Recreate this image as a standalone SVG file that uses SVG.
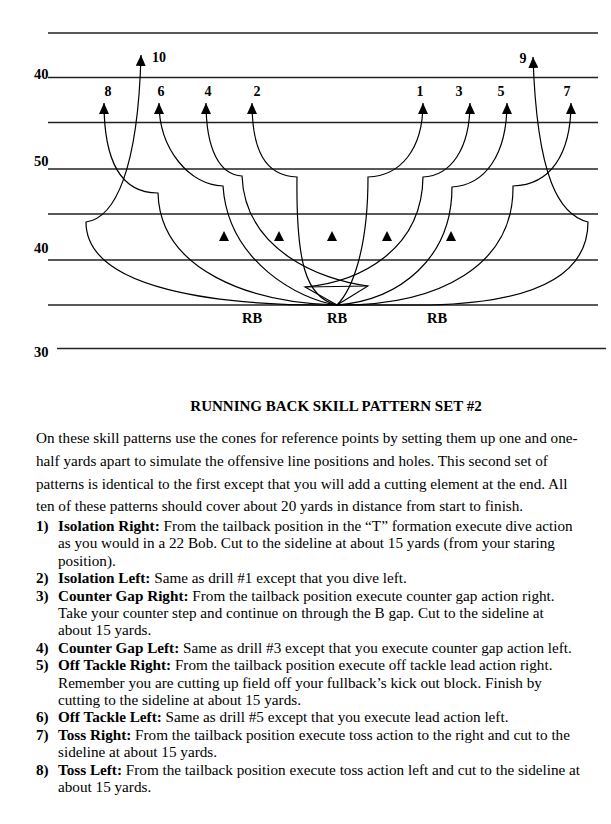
<svg xmlns="http://www.w3.org/2000/svg" width="611" height="824" viewBox="0 0 611 824">
<style>
.yl{stroke:#222;stroke-width:1.4;fill:none}
.p{fill:none;stroke:#000;stroke-width:1.2}
.lbl{font-family:"Liberation Serif",serif;font-weight:bold;font-size:14px;fill:#000}
.yd{font-family:"Liberation Serif",serif;font-weight:bold;font-size:14.5px;fill:#000}
.body{font-family:"Liberation Serif",serif;font-size:15.2px;fill:#000}
.b{font-weight:bold}
.cone{fill:#000}
</style>
<defs>
<marker id="ah" viewBox="0 0 11 10" refX="11" refY="5" markerWidth="11" markerHeight="10" markerUnits="userSpaceOnUse" orient="auto">
<path d="M0,0 L11,5 L0,10 z" fill="#000"/>
</marker>
</defs>
<rect width="611" height="824" fill="#fff"/>
<g id="yard-lines">
<line class="yl" x1="48" y1="33" x2="598" y2="33"/>
<line class="yl" x1="48" y1="77.5" x2="598" y2="77.5"/>
<line class="yl" x1="48" y1="122.5" x2="598" y2="122.5"/>
<line class="yl" x1="48" y1="169" x2="598" y2="169"/>
<line class="yl" x1="48" y1="214" x2="598" y2="214"/>
<line class="yl" x1="48" y1="260" x2="598" y2="260"/>
<line class="yl" x1="48" y1="305" x2="598" y2="305"/>
<line class="yl" x1="57" y1="348.5" x2="606" y2="348.5"/>
<text class="yd" x="34" y="79">40</text>
<text class="yd" x="34" y="166">50</text>
<text class="yd" x="34" y="253">40</text>
<text class="yd" x="34" y="357">30</text>
</g>
<g id="cones">
<path class="cone" d="M224,231 L229,241 L219,241 z"/>
<path class="cone" d="M279,231 L284,241 L274,241 z"/>
<path class="cone" d="M332,231 L337,241 L327,241 z"/>
<path class="cone" d="M387,231 L392,241 L382,241 z"/>
<path class="cone" d="M451,231 L456,241 L446,241 z"/>
</g>
<g id="rb-positions">
<text class="yd" x="252" y="323" text-anchor="middle">RB</text>
<text class="yd" x="337" y="323" text-anchor="middle">RB</text>
<text class="yd" x="437" y="323" text-anchor="middle">RB</text>
</g>
<g id="connectors">
<path id="route-1" class="p" marker-end="url(#ah)" d="M337,305 C352,290 368,250 368,177 C400,176 423,150 423,103"/>
<path id="route-2" class="p" marker-end="url(#ah)" d="M337,305 C305,298 296,260 297,177 C265,176 252,150 252,103"/>
<path id="route-3" class="p" marker-end="url(#ah)" d="M337,305 L305,287 C360,282 422,250 423,177 C450,176 470,150 470,103"/>
<path id="route-4" class="p" marker-end="url(#ah)" d="M337,305 L368,286 C320,280 245,250 242,176 C220,175 206,150 206,103"/>
<path id="counter-step" class="p" d="M305,287 L368,286"/>
<path id="route-5" class="p" marker-end="url(#ah)" d="M337,305 C400,300 452,258 452,187 C485,185 507,155 507,103"/>
<path id="route-6" class="p" marker-end="url(#ah)" d="M337,305 C300,300 228,262 223,186 C190,185 159,150 159,103"/>
<path id="route-7" class="p" marker-end="url(#ah)" d="M337,305 C440,306 514,265 513,186 C550,185 571,155 571,103"/>
<path id="route-8" class="p" marker-end="url(#ah)" d="M337,305 C250,303 160,270 158,193 C120,193 104,160 104,103"/>
<path id="route-9" class="p" marker-end="url(#ah)" d="M337,305 L430,305 C520,303 588,282 588,222 C560,215 537,180 533,57"/>
<path id="route-10" class="p" marker-end="url(#ah)" d="M337,305 C220,306 86,290 86,222 C115,218 138,170 141,55"/>
</g>
<g id="route-labels">
<text class="lbl" x="159" y="62" text-anchor="middle">10</text>
<text class="lbl" x="523" y="63" text-anchor="middle">9</text>
<text class="lbl" x="108" y="96" text-anchor="middle">8</text>
<text class="lbl" x="161" y="96" text-anchor="middle">6</text>
<text class="lbl" x="208" y="96" text-anchor="middle">4</text>
<text class="lbl" x="257" y="96" text-anchor="middle">2</text>
<text class="lbl" x="420" y="96" text-anchor="middle">1</text>
<text class="lbl" x="459" y="96" text-anchor="middle">3</text>
<text class="lbl" x="501" y="96" text-anchor="middle">5</text>
<text class="lbl" x="567" y="96" text-anchor="middle">7</text>
</g>
<g id="title">
<text class="body b" x="336" y="411" text-anchor="middle" style="font-size:15px">RUNNING BACK SKILL PATTERN SET #2</text>
</g>
<g id="intro" class="body">
<text x="36" y="443">On these skill patterns use the cones for reference points by setting them up one and one-</text>
<text x="36" y="466">half yards apart to simulate the offensive line positions and holes. This second set of</text>
<text x="36" y="489">patterns is identical to the first except that you will add a cutting element at the end. All</text>
<text x="36" y="511">ten of these patterns should cover about 20 yards in distance from start to finish.</text>
</g>
<g id="drills" class="body">
<text x="36" y="531" class="b">1)</text>
<text x="58" y="531"><tspan class="b">Isolation Right:</tspan> From the tailback position in the “T” formation execute dive action</text>
<text x="58" y="548.4">as you would in a 22 Bob. Cut to the sideline at about 15 yards (from your staring</text>
<text x="58" y="565.8">position).</text>
<text x="36" y="583.2" class="b">2)</text>
<text x="58" y="583.2"><tspan class="b">Isolation Left:</tspan> Same as drill #1 except that you dive left.</text>
<text x="36" y="600.6" class="b">3)</text>
<text x="58" y="600.6"><tspan class="b">Counter Gap Right:</tspan> From the tailback position execute counter gap action right.</text>
<text x="58" y="618">Take your counter step and continue on through the B gap. Cut to the sideline at</text>
<text x="58" y="635.4">about 15 yards.</text>
<text x="36" y="652.8" class="b">4)</text>
<text x="58" y="652.8"><tspan class="b">Counter Gap Left:</tspan> Same as drill #3 except that you execute counter gap action left.</text>
<text x="36" y="670.2" class="b">5)</text>
<text x="58" y="670.2"><tspan class="b">Off Tackle Right:</tspan> From the tailback position execute off tackle lead action right.</text>
<text x="58" y="687.6">Remember you are cutting up field off your fullback’s kick out block. Finish by</text>
<text x="58" y="705">cutting to the sideline at about 15 yards.</text>
<text x="36" y="722.4" class="b">6)</text>
<text x="58" y="722.4"><tspan class="b">Off Tackle Left:</tspan> Same as drill #5 except that you execute lead action left.</text>
<text x="36" y="739.8" class="b">7)</text>
<text x="58" y="739.8"><tspan class="b">Toss Right:</tspan> From the tailback position execute toss action to the right and cut to the</text>
<text x="58" y="757.2">sideline at about 15 yards.</text>
<text x="36" y="774.6" class="b">8)</text>
<text x="58" y="774.6"><tspan class="b">Toss Left:</tspan> From the tailback position execute toss action left and cut to the sideline at</text>
<text x="58" y="792">about 15 yards.</text>
</g>
</svg>
